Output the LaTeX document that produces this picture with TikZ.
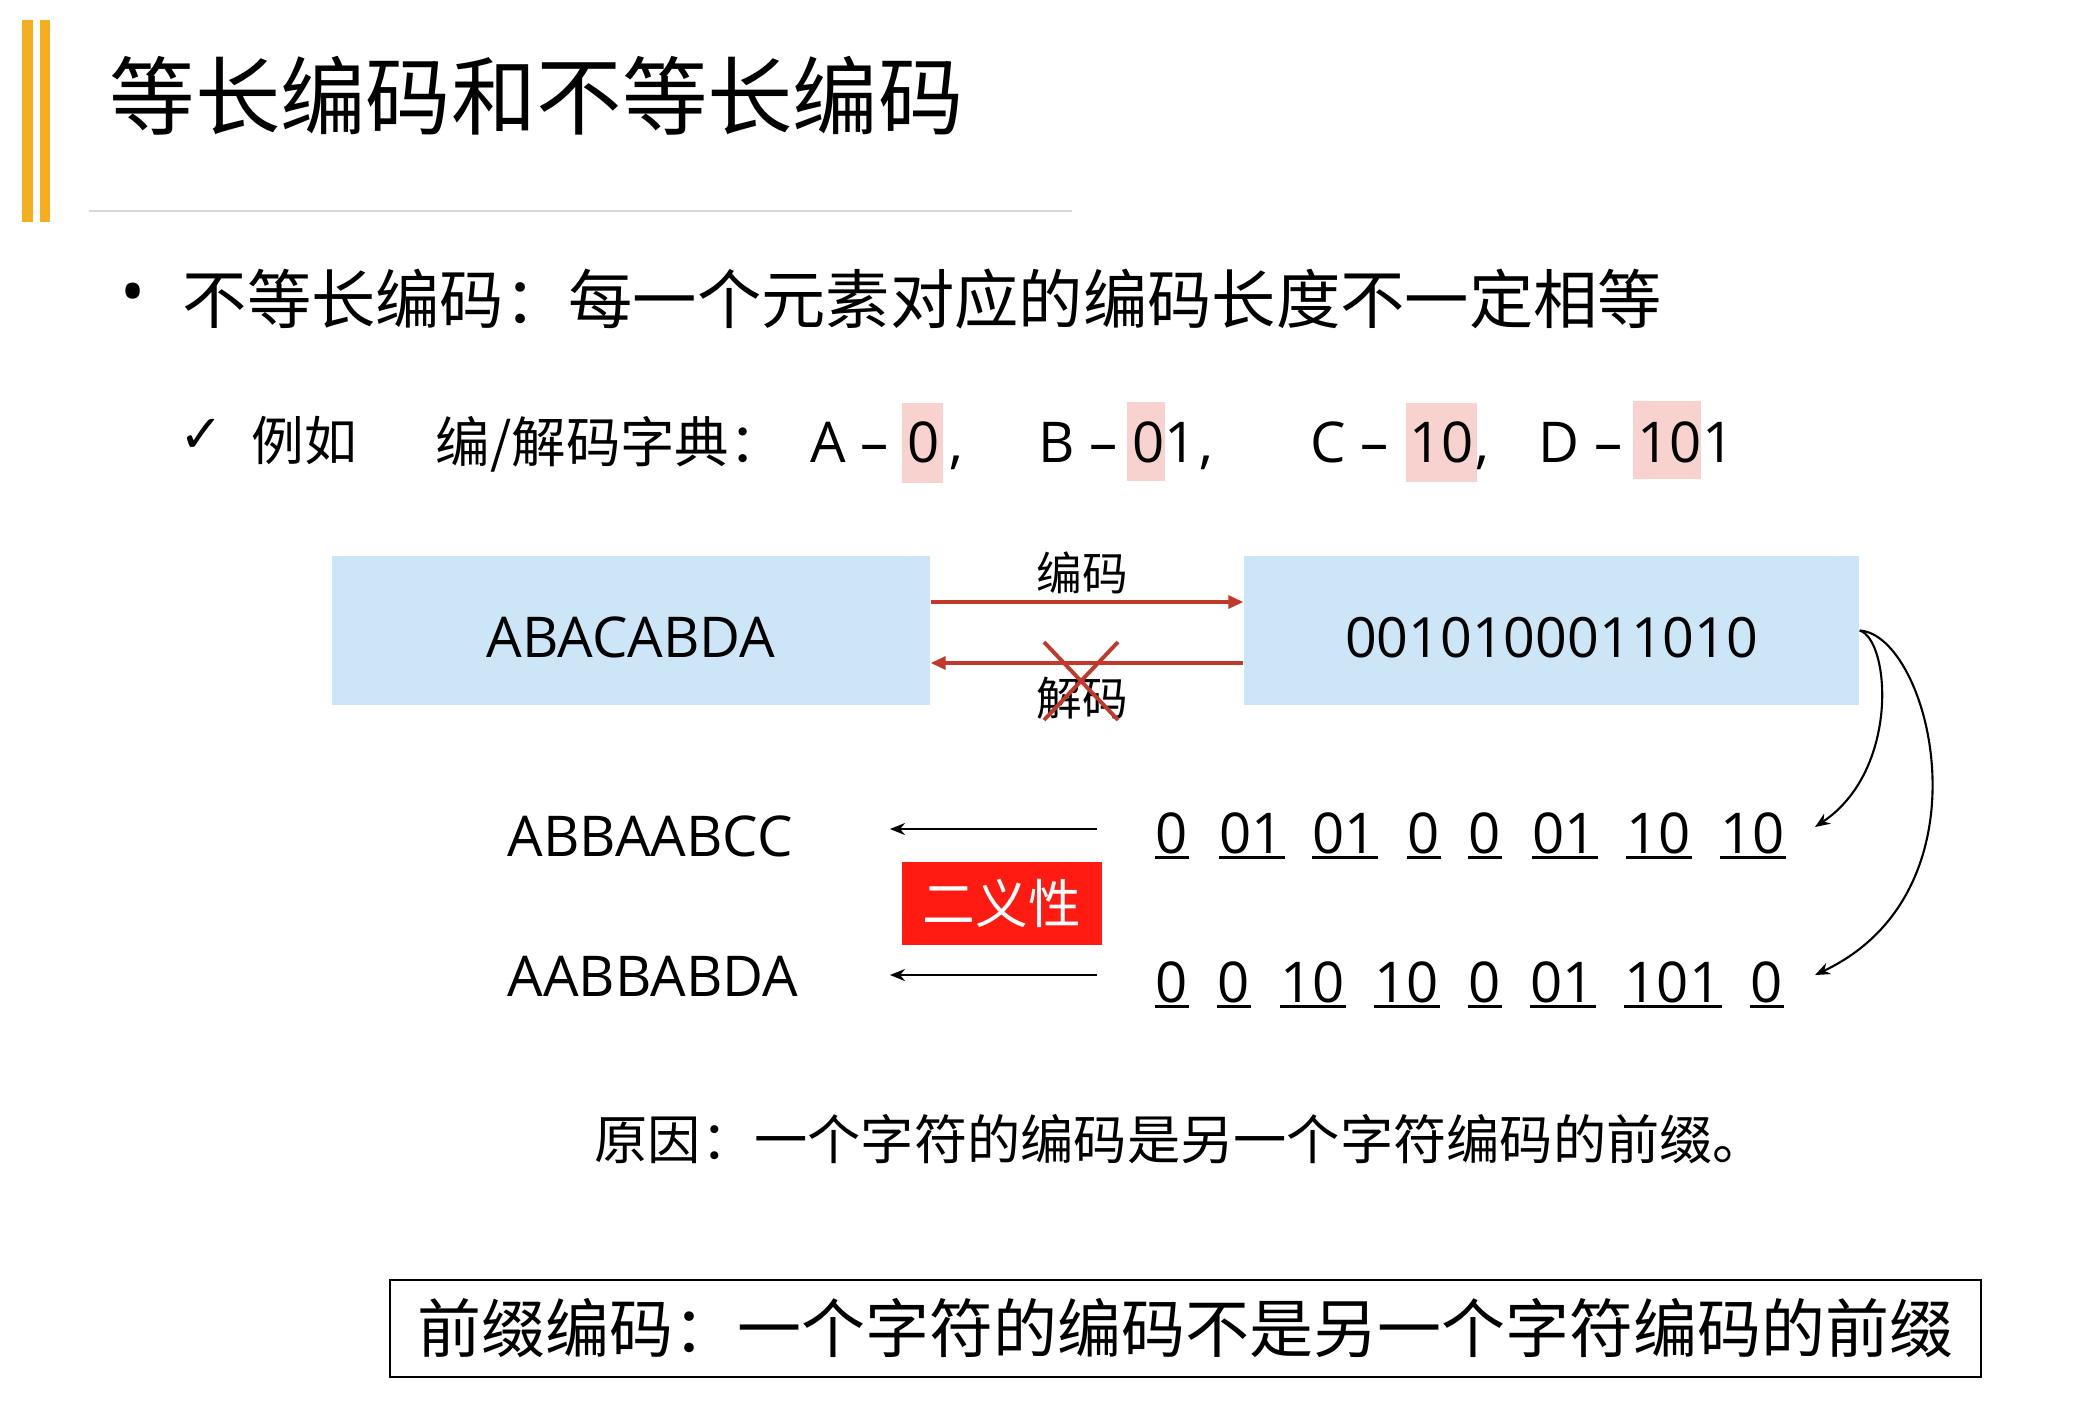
\documentclass[tikz,border=0pt]{standalone}
\usepackage{fontspec}
\setmainfont{Open Sans}
\newfontfamily\cjk{Noto Sans CJK SC}
\newfontfamily\symfont{DejaVu Sans}
\usetikzlibrary{arrows.meta}
\definecolor{barorange}{RGB}{245,174,30}
\definecolor{rulegray}{RGB}{217,217,217}
\definecolor{hlpink}{RGB}{247,210,206}
\definecolor{boxblue}{RGB}{204,230,247}
\definecolor{arrowred}{RGB}{192,57,43}
\definecolor{flagred}{RGB}{255,26,18}
\newcommand{\fs}[1]{\fontsize{#1}{#1}\selectfont}

\begin{document}
\begin{tikzpicture}[x=1cm, y=-1cm,
  every node/.style={inner sep=0pt},
  cjktext/.style={font=\cjk\fs{#1}},
  dict/.style={anchor=base west, font=\fs{16}},
  digit/.style={anchor=base west, font=\fs{16}},
  codebox/.style={fill=boxblue, minimum height=1.49cm, text height=0.54cm, text depth=0cm, font=\fs{16}},
  redarrow/.style={arrowred, line width=0.9pt, -{Triangle[length=0.15cm,width=0.13cm]}},
  backarrow/.style={line width=0.6pt, -{Stealth[length=0.15cm,width=0.12cm]}}]
  \useasboundingbox (0,0) rectangle (20.82,14.08);

  % title
  \fill[barorange] (0.22,0.20) rectangle (0.33,2.22);
  \fill[barorange] (0.40,0.20) rectangle (0.50,2.22);
  \node[cjktext=24.3, anchor=west] (title) at (1.09,0.96) {等长编码和不等长编码};
  \draw[rulegray, line width=0.6pt] (0.89,2.11) -- (10.72,2.11);

  % bullet line
  \node[font=\fs{19}] (dot) at (1.33,2.99) {•};
  \node[cjktext=18.3, anchor=west] (lenline) at (1.82,2.99) {不等长编码：每一个元素对应的编码长度不一定相等};

  % dictionary line
  \fill[hlpink] (9.02,4.03) rectangle (9.43,4.83);
  \fill[hlpink] (11.27,4.02) rectangle (11.65,4.81);
  \fill[hlpink] (14.06,4.03) rectangle (14.77,4.82);
  \fill[hlpink] (16.33,4.01) rectangle (17.01,4.79);
  \node[font=\symfont\fs{15}, anchor=west] (tick) at (1.79,4.36) {✓};
  \node[cjktext=15, anchor=west] (eg) at (2.51,4.41) {例如};
  \node[cjktext=15.5, anchor=west] (dictname) at (4.35,4.44) {编/解码字典：};
  \foreach \lx/\l/\dx/\d [count=\i] in {8.10/A/9.07/0, 10.38/B/11.32/01, 13.10/C/14.09/10, 15.38/D/16.37/101} {
    \node[dict] (key-\i) at (\lx,4.62) {\l{} –};
    \node[dict] (val-\i) at (\dx,4.62) {\d};
  }
  \foreach \cx [count=\i] in {9.49,11.99,14.75}
    \node[dict] (sep-\i) at (\cx,4.62) {,};

  % encode / decode
  \node[codebox, minimum width=5.98cm] (plain) at (6.31,6.305) {ABACABDA};
  \node[codebox, minimum width=6.15cm, font=\fs{15.8}] (code) at (15.515,6.305) {0010100011010};
  \coordinate (encY) at (0,6.02);
  \coordinate (decY) at (0,6.63);
  \draw[redarrow] (plain.east |- encY) -- (code.west |- encY);
  \draw[redarrow] (code.west |- decY) -- (plain.east |- decY);
  \node[cjktext=13] (enc) at (10.82,5.73) {编码};
  \node[cjktext=13] (dec) at (10.82,6.98) {解码};
  \draw[arrowred, line width=1.1pt] (10.44,6.42) -- (11.18,7.20) (11.18,6.42) -- (10.44,7.20);

  % two readings
  \node[anchor=base west, font=\fs{16}] (read1) at (5.07,8.56) {ABBAABCC};
  \node[anchor=base west, font=\fs{16}] (read2) at (5.07,9.96) {AABBABDA};
  \coordinate (from1) at (10.97,8.29);
  \coordinate (to1) at (8.90,8.29);
  \coordinate (from2) at (10.97,9.75);
  \coordinate (to2) at (8.90,9.75);
  \draw[backarrow] (from1) -- (to1);
  \draw[backarrow] (from2) -- (to2);
  \foreach \x/\d [count=\i] in {11.55/0, 12.19/01, 13.12/01, 14.07/0, 14.68/0, 15.32/01, 16.26/10, 17.20/10} {
    \node[digit] (ra-\i) at (\x,8.53) {\d};
    \draw[line width=0.85pt] ([yshift=-1.4pt]ra-\i.base west) -- ([yshift=-1.4pt]ra-\i.base east);
  }
  \foreach \x/\d [count=\i] in {11.55/0, 12.17/0, 12.80/10, 13.74/10, 14.68/0, 15.30/01, 16.24/101, 17.50/0} {
    \node[digit] (rb-\i) at (\x,10.02) {\d};
    \draw[line width=0.85pt] ([yshift=-1.4pt]rb-\i.base west) -- ([yshift=-1.4pt]rb-\i.base east);
  }
  \coordinate (tip1) at (18.15,8.27);
  \coordinate (tip2) at (18.15,9.75);
  \draw[backarrow] (code.east) .. controls (18.9,6.4) and (19.0,7.7) .. (tip1);
  \draw[backarrow] (code.east) .. controls (19.3,6.35) and (19.95,8.9) .. (tip2);
  \node[fill=flagred, text=white, cjktext=15, minimum width=2.0cm, minimum height=0.83cm] (ambig) at (10.02,9.03) {二义性};

  % reason and definition
  \node[cjktext=15.15, anchor=west] (reason) at (5.94,11.39) {原因：一个字符的编码是另一个字符编码的前缀。};
  \node[draw, line width=0.8pt, cjktext=18.2, minimum width=15.91cm, minimum height=0.97cm] (prefix) at (11.855,13.285) {前缀编码：一个字符的编码不是另一个字符编码的前缀};
\end{tikzpicture}
\end{document}
